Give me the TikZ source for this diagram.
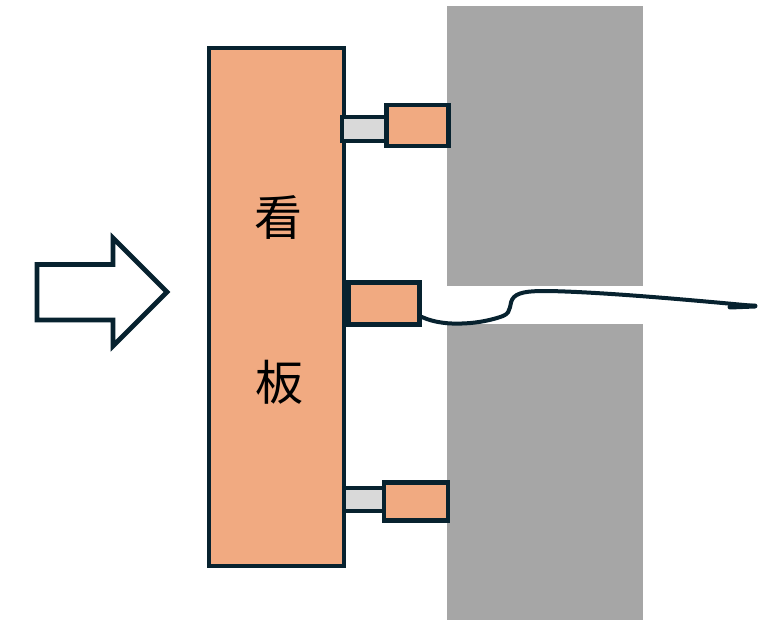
\documentclass[tikz,border=0pt]{standalone}
\usepackage{fontspec}
\newfontfamily\cjk{Noto Sans CJK JP}
\definecolor{boardfill}{HTML}{F1AA81}
\definecolor{edgecol}{HTML}{07222F}
\definecolor{wallcol}{HTML}{A6A6A6}
\definecolor{barcol}{HTML}{D9D9D9}
\tikzset{
  wall/.style={fill=wallcol,inner sep=0pt},
  part/.style={draw=edgecol,line width=4.7pt,inner sep=0pt,fill=boardfill},
  bar/.style={part,fill=barcol},
  kanji/.style={font=\cjk\fontsize{48pt}{48pt}\selectfont,text=black,inner sep=0pt}
}
\begin{document}
\begin{tikzpicture}[x=1pt,y=-1pt]
  \useasboundingbox (0,0) rectangle (772,634);
  % walls
  \node (walltop) [wall,minimum width=196pt,minimum height=280pt] at (545,146) {};
  \node (wallbot) [wall,minimum width=196pt,minimum height=296pt] at (545,472) {};
  % push arrow
  \draw[edgecol,line width=4.7pt,fill=white,miter limit=10]
    (37,264.5) -- (113,264.5) -- (113,238) -- (167,292) -- (113,346) -- (113,320) -- (37,320) -- cycle;
  % board
  \node (board) [part,minimum width=135pt,minimum height=518pt] at (276.5,307) {};
  \node (kan) [kanji] at (278,217) {看};
  \node (ban) [kanji] at (279,382) {板};
  % bolts
  \node (bartop) [bar,minimum width=44pt,minimum height=24pt] at (364,129) {};
  \node (bolttop) [part,minimum width=62pt,minimum height=41pt] at (417.5,125.5) {};
  \node (barbot) [bar,minimum width=40pt,minimum height=23pt] at (364,499.5) {};
  \node (boltbot) [part,minimum width=64pt,minimum height=38pt] at (416,501.5) {};
  \node (sensor) [part,minimum width=71pt,minimum height=42pt] at (384,303.5) {};
  % wire
  \coordinate (wiretip) at (755,306);
  \coordinate (wirelug) at (730,307);
  \draw[edgecol,line width=4pt,line cap=round]
    ([yshift=-13.5pt]sensor.east) .. controls (435,323) and (450,324) .. (462,323.5)
    .. controls (480,323) and (495,319) .. (503,316)
    .. controls (513,312) and (508,303) .. (514,297)
    .. controls (520,291) and (535,291) .. (548,291)
    .. controls (600,292) and (680,299) .. (wiretip);
  \draw[edgecol,line width=5pt,line cap=round] (wirelug) -- (wiretip);
\end{tikzpicture}
\end{document}
